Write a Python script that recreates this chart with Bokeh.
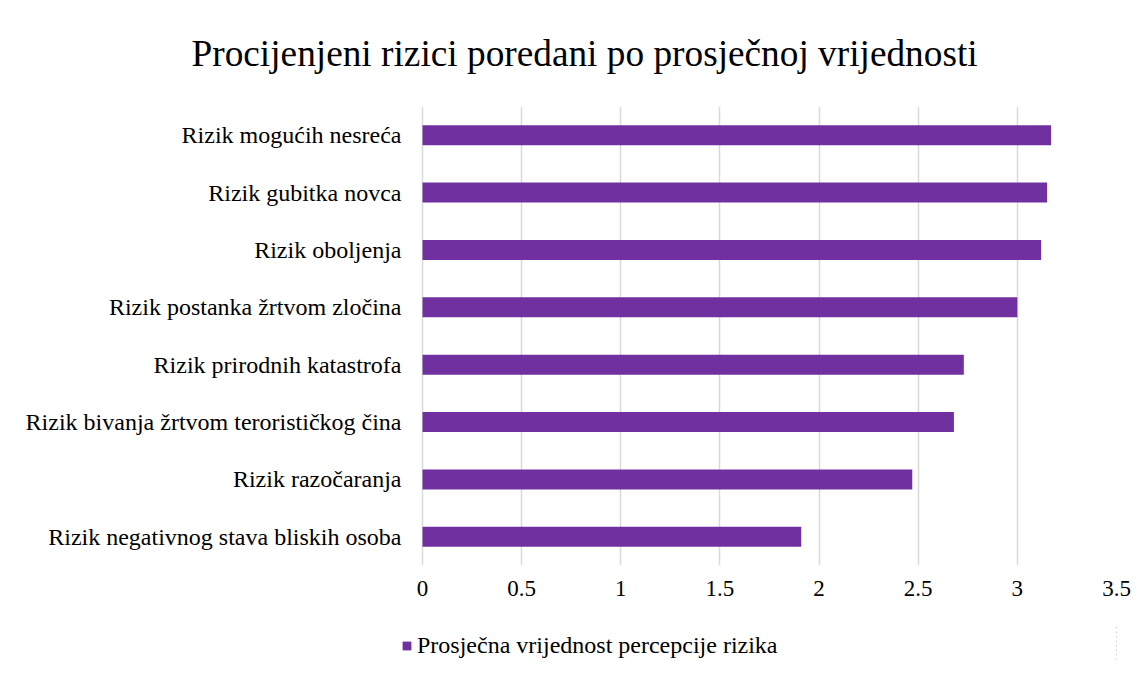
from bokeh.plotting import figure
from bokeh.layouts import column
from bokeh.models import FactorRange, Range1d, FixedTicker, Legend, LegendItem
from bokeh.embed import file_html
from bokeh.resources import INLINE

# Data (top to bottom in the reference)
categories = [
    "Rizik mogućih nesreća",
    "Rizik gubitka novca",
    "Rizik oboljenja",
    "Rizik postanka žrtvom zločina",
    "Rizik prirodnih katastrofa",
    "Rizik bivanja žrtvom terorističkog čina",
    "Rizik razočaranja",
    "Rizik negativnog stava bliskih osoba",
]
values = [3.17, 3.15, 3.12, 3.00, 2.73, 2.68, 2.47, 1.91]
x_ticks = [0, 0.5, 1, 1.5, 2, 2.5, 3, 3.5]
x_tick_labels = ["0", "0.5", "1", "1.5", "2", "2.5", "3", "3.5"]
series_name = "Prosječna vrijednost percepcije rizika"
title_text = "Procijenjeni rizici poredani po prosječnoj vrijednosti"

FONT = "Liberation Serif"
PURPLE = "#7030A0"
GRID = "#d9d9d9"

factors = list(reversed(categories))
X_START, X_END = -0.106, 3.5   # view range; 0 sits a little right of the frame edge

p = figure(
    width=1139, height=625,
    y_range=FactorRange(factors=factors, range_padding=0),
    x_range=Range1d(X_START, X_END),
    output_backend="svg", toolbar_location=None,
    frame_width=715, frame_height=459,
    min_border_left=401, min_border_right=23,
    min_border_top=106, min_border_bottom=60,
)

r = p.hbar(y=categories, right=values, left=0, height=0.35,
           fill_color=PURPLE, line_color=None)

p.title.text = title_text
p.title.text_font = FONT
p.title.text_font_size = "37.3px"
p.title.text_font_style = "normal"
p.title.text_color = "#000000"
p.title.align = "left"
p.title.offset = -210
p.title.standoff = 62
p.title.vertical_align = "top"

p.outline_line_color = None
p.background_fill_color = "white"
p.border_fill_color = "white"

p.xgrid.grid_line_color = GRID
p.xgrid.grid_line_width = 1.5
p.ygrid.grid_line_color = None

p.xaxis.ticker = FixedTicker(ticks=x_ticks)
p.xaxis.major_label_overrides = {t: l for t, l in zip(x_ticks, x_tick_labels)}
p.xaxis.axis_line_color = None
p.xaxis.major_tick_line_color = None
p.xaxis.minor_tick_line_color = None
p.xaxis.major_tick_out = 0
p.xaxis.major_label_standoff = 15
p.xaxis.major_label_text_font = FONT
p.xaxis.major_label_text_font_size = "23px"
p.xaxis.major_label_text_color = "#000000"

p.yaxis.axis_line_color = None
p.yaxis.major_tick_line_color = None
p.yaxis.major_tick_out = 0
p.yaxis.major_label_standoff = 0
p.yaxis.major_label_text_font = FONT
p.yaxis.major_label_text_font_size = "24px"
p.yaxis.major_label_text_color = "#000000"

# Legend strip below the chart (its frame is aligned with the chart frame).
# Its x view lies entirely left of 0, so the series' bars fall outside it and
# only the legend swatch of the same series is shown.
pl = figure(
    width=1139, height=36,
    x_axis_type=None, y_axis_type=None,
    y_range=FactorRange(factors=factors, range_padding=0),
    x_range=Range1d(-2 * X_END, -X_END),
    output_backend="svg", toolbar_location=None,
    min_border_left=0, min_border_right=0,
    min_border_top=0, min_border_bottom=0,
)
pl.outline_line_color = None
pl.background_fill_color = "white"
pl.border_fill_color = "white"
pl.xgrid.visible = False
pl.ygrid.visible = False
lr = pl.hbar(y=categories, right=values, left=0, height=0.35,
             fill_color=PURPLE, line_color=None)

legend = Legend(items=[LegendItem(label=series_name, renderers=[lr])],
                location=(0, 2), orientation="horizontal",
                padding=0, margin=0, spacing=0,
                glyph_width=11, glyph_height=11, label_standoff=5,
                label_text_font=FONT, label_text_font_size="24px",
                label_text_color="#000000",
                border_line_color=None, background_fill_alpha=0)
pl.add_layout(legend)

layout = column(p, pl, spacing=0)

open("out.html", "w").write(file_html(layout, INLINE))
